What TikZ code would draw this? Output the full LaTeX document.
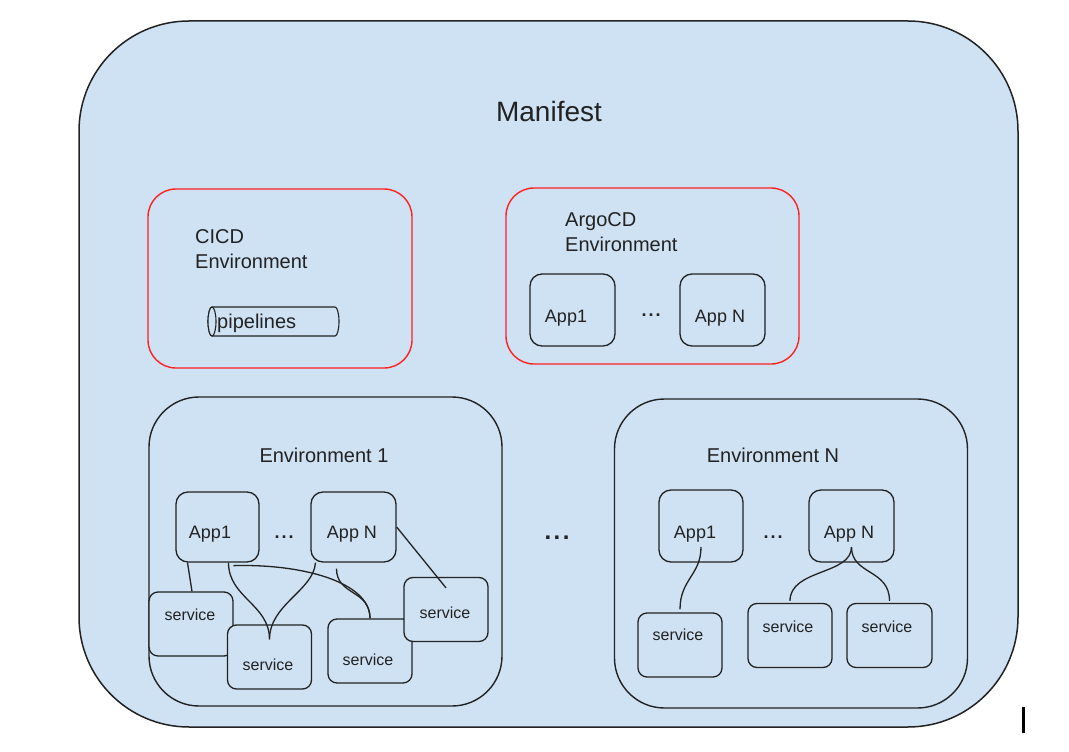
\documentclass[tikz,border=0pt]{standalone}
\usepackage{fontspec}
\setmainfont{Liberation Sans}
\usepackage{xcolor}
\usepackage{tikz}
\usetikzlibrary{positioning,shapes.geometric}
\definecolor{mfill}{HTML}{CFE2F3}
\definecolor{edge}{HTML}{222222}
\definecolor{redge}{HTML}{FF2020}
\definecolor{ink}{HTML}{222222}
\newcommand{\spaceddots}[1]{\textbf{.\hspace{#1}.\hspace{#1}.}}
\tikzset{
  manifest/.style = {rectangle, rounded corners=110pt, draw=edge, fill=mfill, line width=1.5pt,
                     minimum width=939pt, minimum height=706pt, inner sep=0pt},
  redenv/.style   = {rectangle, rounded corners=28pt, draw=redge, fill=mfill, line width=1.4pt,
                     inner sep=0pt},
  envbox/.style   = {rectangle, rounded corners=50pt, draw=edge, fill=mfill, line width=1.4pt,
                     minimum width=353pt, minimum height=309pt, inner sep=0pt},
  appbox/.style   = {rectangle, rounded corners=12pt, draw=edge, fill=mfill, line width=1.3pt,
                     minimum width=85pt, minimum height=72pt, inner sep=0pt},
  svcbox/.style   = {rectangle, rounded corners=9pt, draw=edge, fill=mfill, line width=1.3pt,
                     minimum width=84pt, minimum height=64pt, inner sep=0pt},
  pipeline/.style = {draw=edge, fill=mfill, line width=1.1pt},
  link/.style     = {draw=edge, line width=1.3pt},
  title/.style    = {text=ink, inner sep=0pt, font=\fontsize{28}{34}\selectfont},
  envlbl/.style   = {text=ink, inner sep=0pt, align=left, font=\fontsize{20}{25}\selectfont},
  applbl/.style   = {text=ink, inner sep=0pt, font=\fontsize{18}{22}\selectfont},
  svclbl/.style   = {text=ink, inner sep=0pt, font=\fontsize{16}{19}\selectfont},
}

\begin{document}
\begin{tikzpicture}[x=1pt, y=-1pt]
  \useasboundingbox (0,0) rectangle (1069,752);
  \node[manifest] (mf) at (548.5,374) {};
  \node[title] (mftxt) at (549,111) {Manifest};

  \node[redenv, minimum width=264pt, minimum height=179pt] (cicd) at (280,278.5) {};
  \node[envlbl, anchor=west] (cicdtxt) at (195,249.5) {CICD\\Environment};
  % pipelines drum, cap on the left
  \draw[pipeline] (212,307) -- (335,307) arc[start angle=90, end angle=-90, x radius=4pt, y radius=14.5pt]
    -- (212,336) arc[start angle=270, end angle=90, x radius=4pt, y radius=14.5pt] -- cycle;
  \draw[pipeline] (212,321.5) ellipse[x radius=4pt, y radius=14.5pt];
  \node[envlbl, anchor=west] (pipestxt) at (217,323) {pipelines};

  \node[redenv, minimum width=293pt, minimum height=176pt] (argo) at (652.5,276) {};
  \node[envlbl, anchor=west] (argotxt) at (565,232.5) {ArgoCD\\Environment};
  \node[appbox] (ga1) at (572.5,310) {};
  \node[appbox] (gaN) at (722.5,310) {};
  \node[applbl] (ga1txt) at (566,318) {App1};
  \node[applbl] (gaNtxt) at (720,318) {App N};
  \node[applbl] (gadots) at (651,315) {\spaceddots{2pt}};

  % environment 1
  \node[envbox] (env1) at (325.5,551.5) {};
  \node[envlbl] (env1txt) at (324,455) {Environment 1};
  \node[appbox, minimum width=83pt, minimum height=70pt] (e1a1) at (217.5,527) {};
  \node[appbox, minimum height=70pt] (e1aN) at (353.5,527) {};
  \node[applbl] (e1a1txt) at (210,534) {App1};
  \node[applbl] (e1aNtxt) at (352,534) {App N};
  \node[applbl] (e1dots) at (284,537) {\spaceddots{2pt}};
  \node[svcbox] (e1s1) at (191,624) {};
  \node[svcbox] (e1s2) at (269.5,657) {};
  \node[svcbox] (e1s3) at (370,651) {};
  \node[svcbox] (e1s4) at (446,609.5) {};
  \node[svclbl] at (190,615) {service};
  \node[svclbl] at (268,665) {service};
  \node[svclbl] at (368,660) {service};
  \node[svclbl] at (445,613) {service};

  \draw[link] ([xshift=-30pt]e1a1.south) -- ([xshift=1pt]e1s1.north);
  \draw[link] ([xshift=11pt]e1a1.south) .. controls +(0,35) and +(0,-35) .. ([yshift=-15pt]e1s2.north);
  \draw[link] ([xshift=-38pt]e1aN.south) .. controls +(-2,28) and +(0,-35) .. ([yshift=-15pt]e1s2.north);
  \draw[link] ([xshift=16pt,yshift=-3pt]e1a1.south) .. controls +(67,-2) and +(0,-37) .. (e1s3.north);
  \draw[link] ([xshift=-17pt,yshift=-6pt]e1aN.south) .. controls +(0,27) and +(0,-29) .. (e1s3.north);
  \draw[link] (e1aN.east) -- ([yshift=-11pt]e1s4.north);

  \node[applbl, font=\fontsize{24}{28}\selectfont] (middots) at (557,538) {\spaceddots{2.5pt}};

  % environment N
  \node[envbox] (envN) at (791,553.5) {};
  \node[envlbl] (envNtxt) at (773,455) {Environment N};
  \node[appbox, minimum width=84pt] (e2a1) at (701,526) {};
  \node[appbox] (e2aN) at (851.5,526) {};
  \node[applbl] (e2a1txt) at (695,534) {App1};
  \node[applbl] (e2aNtxt) at (849,534) {App N};
  \node[applbl] (e2dots) at (773,537) {\spaceddots{2pt}};
  \node[svcbox] (e2s1) at (680,645) {};
  \node[svcbox] (e2s2) at (790,635.5) {};
  \node[svcbox, minimum width=85pt] (e2s3) at (889.5,635.5) {};
  \node[svclbl] at (678,635) {service};
  \node[svclbl] at (788,627) {service};
  \node[svclbl] at (887,627) {service};

  \draw[link] ([yshift=-21pt]e2a1.center) .. controls +(0,28) and +(0,-30) .. ([yshift=3pt]e2s1.north);
  \draw[link] ([yshift=-21pt]e2aN.center) .. controls +(0,28) and +(0,-32) .. ([yshift=2pt]e2s2.north);
  \draw[link] ([yshift=-21pt]e2aN.center) .. controls +(0,28) and +(0,-32) .. ([yshift=2pt]e2s3.north);

  \draw[line width=3pt] (1023,707) -- (1023,733);
\end{tikzpicture}
\end{document}
